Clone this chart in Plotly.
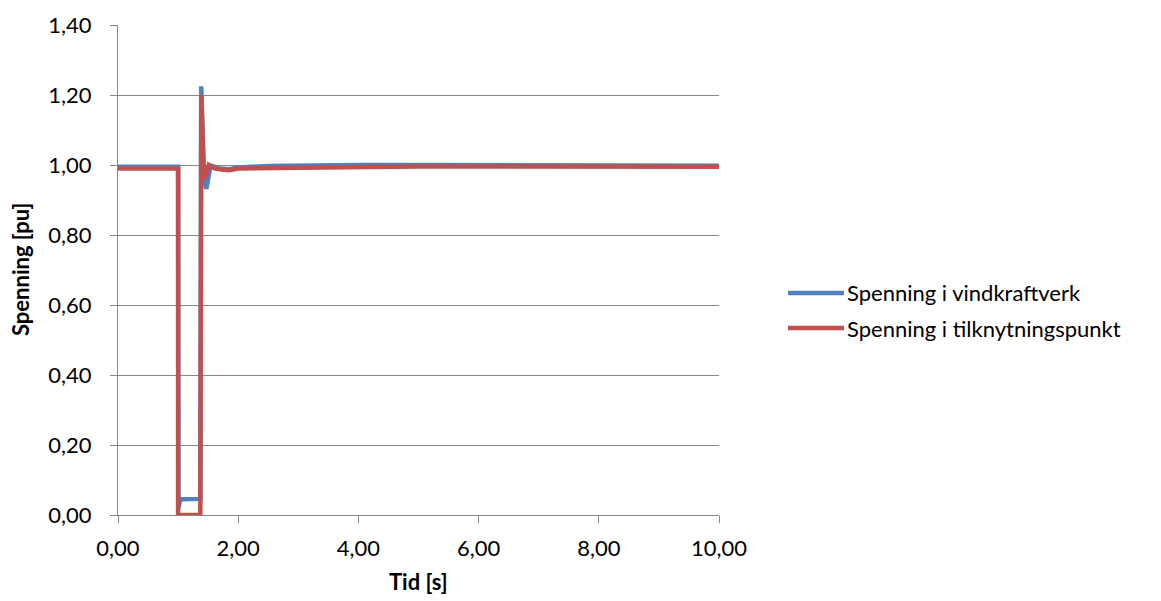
import plotly.graph_objects as go

# Simulated voltage response during a short-circuit fault (time in seconds, voltage in pu)
t_vind = [0.0, 1.0, 1.005, 1.03, 1.06, 1.37, 1.385, 1.40, 1.43, 1.47, 1.50, 1.54, 1.60, 1.70, 1.85,
          2.0, 2.5, 3.0, 4.0, 5.0, 6.0, 6.6, 7.0, 8.0, 9.0, 10.0]
u_vind = [0.995, 0.995, 0.02, 0.040, 0.045, 0.046, 1.225, 1.12, 0.97, 0.932, 0.97, 0.998, 0.995, 0.99, 0.988,
          0.993, 0.997, 0.999, 1.0, 1.0, 1.0, 1.0, 1.0, 0.999, 0.999, 0.998]

t_tilk = [0.0, 1.0, 1.0, 1.37, 1.385, 1.40, 1.43, 1.47, 1.51, 1.55, 1.62, 1.72, 1.85,
          2.0, 3.0, 4.0, 5.0, 6.0, 6.6, 7.0, 8.0, 9.0, 10.0]
u_tilk = [0.99, 0.99, 0.0, 0.0, 1.20, 1.08, 0.96, 0.975, 1.0, 0.995, 0.99, 0.987, 0.985,
          0.99, 0.993, 0.995, 0.996, 0.996, 0.996, 0.996, 0.996, 0.996, 0.995]

navn_vind = "Spenning i vindkraftverk"
navn_tilk = "Spenning i tilknytningspunkt"

x_ticks = [0, 2, 4, 6, 8, 10]
y_ticks = [0, 0.2, 0.4, 0.6, 0.8, 1.0, 1.2, 1.4]

FONT = "Lato, 'Open Sans', sans-serif"
FS = 22
GRID = "#878787"
BLUE = "#4F81BD"
RED = "#C0504D"

fig = go.Figure()
fig.add_trace(go.Scatter(x=t_vind, y=u_vind, mode="lines", name=navn_vind,
                         line=dict(color=BLUE, width=4.5), showlegend=False))
fig.add_trace(go.Scatter(x=t_tilk, y=u_tilk, mode="lines", name=navn_tilk,
                         line=dict(color=RED, width=4.5), showlegend=False))

# Legend drawn to the right of the plot area: a line sample followed by the series name
legend_rows = [(navn_vind, BLUE, 0.4531), (navn_tilk, RED, 0.3816)]
shapes = []
annotations = []
for name, color, yp in legend_rows:
    shapes.append(dict(type="line", xref="paper", yref="paper",
                       x0=1.1148, x1=1.2080, y0=yp, y1=yp,
                       line=dict(color=color, width=4.5)))
    annotations.append(dict(text=name, xref="paper", yref="paper",
                            x=1.2100, y=yp, xanchor="left", yanchor="middle",
                            showarrow=False, font=dict(family=FONT, size=FS, color="#000000")))

# Axis titles
annotations.append(dict(text="<b>Tid [s]</b>", xref="paper", yref="paper",
                        x=0.4992, y=-0.1367, xanchor="center", yanchor="middle",
                        showarrow=False, font=dict(family=FONT, size=FS, color="#000000")))
annotations.append(dict(text="<b>Spenning [pu]</b>", xref="paper", yref="paper",
                        x=-0.163, y=0.5, xanchor="center", yanchor="middle", textangle=-90,
                        showarrow=False, font=dict(family=FONT, size=FS, color="#000000")))

fig.update_layout(
    width=1161, height=601,
    margin=dict(l=118, r=442, t=25, b=86),
    paper_bgcolor="white", plot_bgcolor="white",
    separators=", ",
    font=dict(family=FONT, size=FS, color="#000000"),
    shapes=shapes,
    annotations=annotations,
)
fig.update_xaxes(
    range=[0, 10], tickvals=x_ticks, tickformat=".2f",
    showgrid=False, showline=True, linecolor=GRID, linewidth=1.3,
    ticks="outside", ticklen=7, tickcolor=GRID, tickwidth=1.3,
    ticklabelstandoff=6, zeroline=False,
)
fig.update_yaxes(
    range=[0, 1.4], tickvals=y_ticks, tickformat=".2f",
    showgrid=True, gridcolor=GRID, gridwidth=1.3,
    showline=True, linecolor=GRID, linewidth=1.3,
    ticks="outside", ticklen=7, tickcolor=GRID, tickwidth=1.3,
    ticklabelstandoff=14, zeroline=False,
)

fig.write_html("out.html")
